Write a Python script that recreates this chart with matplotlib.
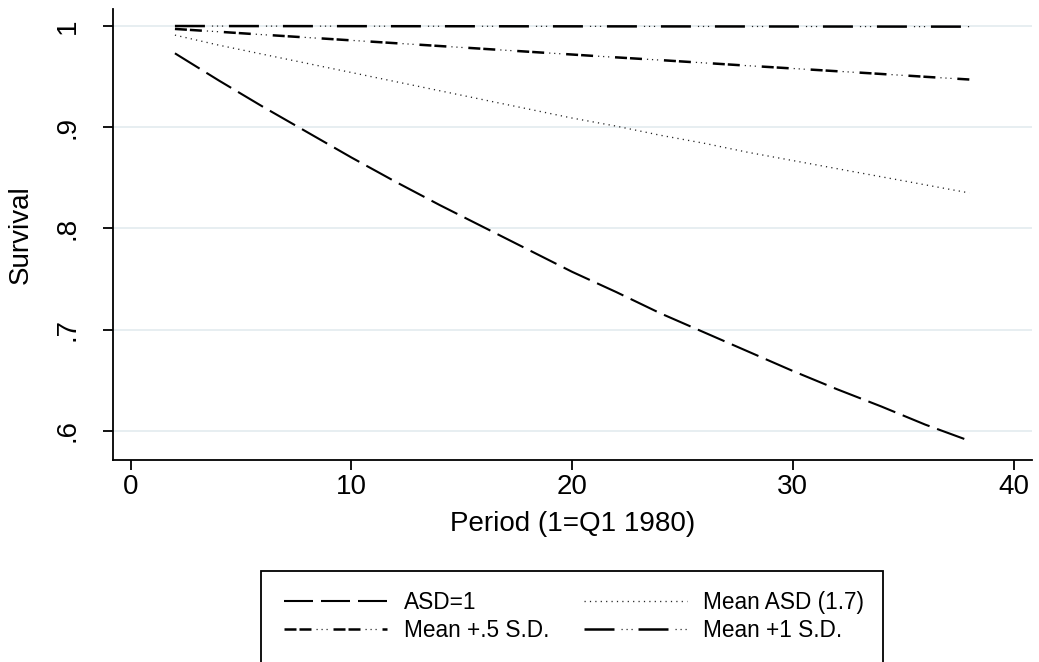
import matplotlib
matplotlib.use("Agg")
import matplotlib.pyplot as plt
from matplotlib.patches import Rectangle
from matplotlib.legend_handler import HandlerTuple

plt.rcParams['font.family'] = ['Liberation Sans', 'DejaVu Sans']
plt.rcParams['lines.scale_dashes'] = False

# ---- data ----
period = [2, 4, 6, 8, 10, 12, 14, 16, 18, 20, 22, 24, 26, 28, 30, 32, 34, 36, 38]
asd1 = [0.973, 0.946, 0.920, 0.895, 0.870, 0.846, 0.823, 0.801, 0.779, 0.757,
        0.737, 0.716, 0.697, 0.678, 0.659, 0.641, 0.624, 0.606, 0.590]
asd_mean = [0.991, 0.981, 0.972, 0.963, 0.954, 0.945, 0.936, 0.927, 0.918, 0.909,
            0.901, 0.892, 0.884, 0.875, 0.867, 0.859, 0.851, 0.843, 0.835]
asd_half = [0.9971, 0.9943, 0.9914, 0.9886, 0.9858, 0.9830, 0.9802, 0.9774, 0.9746, 0.9718,
            0.9690, 0.9663, 0.9635, 0.9607, 0.9580, 0.9553, 0.9526, 0.9498, 0.9471]
asd_one = [0.99997, 0.99993, 0.99990, 0.99987, 0.99984, 0.99980, 0.99977, 0.99974, 0.99970, 0.99967,
           0.99964, 0.99960, 0.99957, 0.99954, 0.99950, 0.99947, 0.99944, 0.99940, 0.99937]
labels = ["ASD=1", "Mean ASD (1.7)", "Mean +.5 S.D.", "Mean +1 S.D."]
xticks = [0, 10, 20, 30, 40]
yticks = [0.6, 0.7, 0.8, 0.9, 1.0]
yticklabels = [".6", ".7", ".8", ".9", "1"]

W, H = 1039, 662
fig = plt.figure(figsize=(W / 100, H / 100), dpi=100)
ax = fig.add_axes([113 / W, 1 - 460 / H, (1032 - 113) / W, (460 - 9) / H])

def px(*v):
    return tuple(x * 0.72 for x in v)

grey = '#222222'

h1, = ax.plot(period, asd1, color='black', lw=1.5, dash_capstyle='butt',
              linestyle=(0, px(29, 8)))
h2, = ax.plot(period, asd_mean, color=grey, lw=0.95, dash_capstyle='butt',
              linestyle=(0, px(1.2, 4.2)))
h3a, = ax.plot(period, asd_half, color='black', lw=1.8, dash_capstyle='butt',
               linestyle=(0, px(12, 3, 12, 22)))
h3b, = ax.plot(period, asd_half, color=grey, lw=0.9, dash_capstyle='butt',
               linestyle=(px(17)[0], px(1.2, 3.8, 1.2, 3.8, 1.2, 37.8)))
h4a, = ax.plot(period, asd_one, color='black', lw=1.8, dash_capstyle='butt',
               linestyle=(0, px(30, 24)))
h4b, = ax.plot(period, asd_one, color=grey, lw=0.9, dash_capstyle='butt',
               linestyle=(px(17)[0], px(1.2, 3.8, 1.2, 3.8, 1.2, 42.8)))

ax.set_xlim((112.7 - 130.5) / 22.075, (1032 - 130.5) / 22.075)
ax.set_ylim(1 - (460 - 26) / 1011.7, 1 + (26 - 9) / 1011.7)

ax.set_xticks(xticks)
ax.set_yticks(yticks)
ax.set_yticklabels(yticklabels)
ax.grid(axis='y', color='#e0eaee', lw=1.1)
ax.set_axisbelow(True)
for s in ['top', 'right']:
    ax.spines[s].set_visible(False)
for s in ['left', 'bottom']:
    ax.spines[s].set_linewidth(1.3)
ax.tick_params(axis='both', direction='out', length=7.2, width=1.3, labelsize=20)
ax.tick_params(axis='x', pad=3)
ax.tick_params(axis='y', pad=16, labelrotation=90)
for t in ax.get_yticklabels():
    t.set_va('center')

ax.set_xlabel("Period (1=Q1 1980)", fontsize=20, labelpad=8)
ax.set_ylabel("Survival", fontsize=20)
ax.yaxis.set_label_coords(-0.086, 0.5)

handles = [h1, (h3a, h3b), h2, (h4a, h4b)]
leg_labels = [labels[0], labels[2], labels[1], labels[3]]
leg = fig.legend(handles, leg_labels,
                 handler_map={tuple: HandlerTuple(ndivide=1, pad=0)},
                 loc='upper left', bbox_to_anchor=(273 / W, 1 - 580 / H),
                 ncol=2, frameon=False, borderpad=0, fontsize=16.3,
                 handlelength=4.55, handletextpad=0.72, labelspacing=0.2,
                 columnspacing=1.55)

fig.patches.append(Rectangle((261 / W, -0.05), (883 - 261) / W, (1 - 571 / H) + 0.05,
                             transform=fig.transFigure, fill=False, lw=1.3,
                             edgecolor='black', clip_on=False))

fig.savefig("out.png", dpi=100, facecolor='white')
